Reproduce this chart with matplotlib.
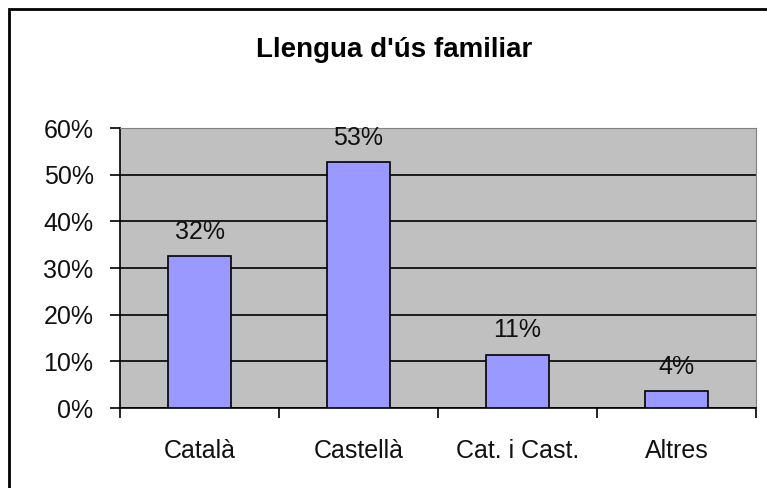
import matplotlib.pyplot as plt
from matplotlib.patches import Rectangle
from matplotlib.ticker import FixedLocator, PercentFormatter

categories = ['Català', 'Castellà', 'Cat. i Cast.', 'Altres']
shares = [0.325, 0.527, 0.114, 0.036]
labels = ['32%', '53%', '11%', '4%']
title = "Llengua d'ús familiar"

plt.rcParams['font.family'] = ['Liberation Sans', 'DejaVu Sans']

fig = plt.figure(figsize=(7.67, 4.88), dpi=100)
ax = fig.add_axes([120 / 767, 80 / 488, 636 / 767, 280 / 488])

x = list(range(len(categories)))
bars = ax.bar(x, shares, width=0.4, color='#9999FF', edgecolor='black', linewidth=1.2, zorder=3)

for b, lab in zip(bars, labels):
    ax.annotate(lab, (b.get_x() + b.get_width() / 2, b.get_height()),
                xytext=(0, 9), textcoords='offset points',
                ha='center', va='bottom', fontsize=18, color='#111111', zorder=4)

ax.set_facecolor('#C0C0C0')
ax.set_xlim(-0.5, len(categories) - 0.5)
ax.set_ylim(0, 0.6)
ax.set_yticks([0, 0.1, 0.2, 0.3, 0.4, 0.5, 0.6])
ax.yaxis.set_major_formatter(PercentFormatter(1.0, decimals=0))
ax.yaxis.grid(True, color='black', linewidth=1.2, zorder=1)
ax.set_axisbelow(True)

ax.set_xticks(x)
ax.set_xticklabels(categories)
ax.xaxis.set_minor_locator(FixedLocator([i - 0.5 for i in range(len(categories) + 1)]))
ax.tick_params(axis='x', which='major', length=0, pad=22, labelsize=18, labelcolor='#111111')
ax.tick_params(axis='x', which='minor', length=7, width=1.2, direction='out')
ax.tick_params(axis='y', length=7, width=1.2, direction='out', pad=12, labelsize=18, labelcolor='#111111')

ax.spines['left'].set_linewidth(1.2)
ax.spines['bottom'].set_linewidth(1.2)
ax.spines['top'].set_color('#808080')
ax.spines['right'].set_color('#808080')

fig.text(394 / 767, 1 - 50 / 488, title, ha='center', va='center',
         fontsize=20, fontweight='bold')

# chart border
fig.patches.append(Rectangle((9 / 767, -0.1), 1.2, (1 - 8.5 / 488) + 0.1,
                             transform=fig.transFigure, fill=False,
                             edgecolor='black', linewidth=2))

fig.savefig('out.png', dpi=100)
